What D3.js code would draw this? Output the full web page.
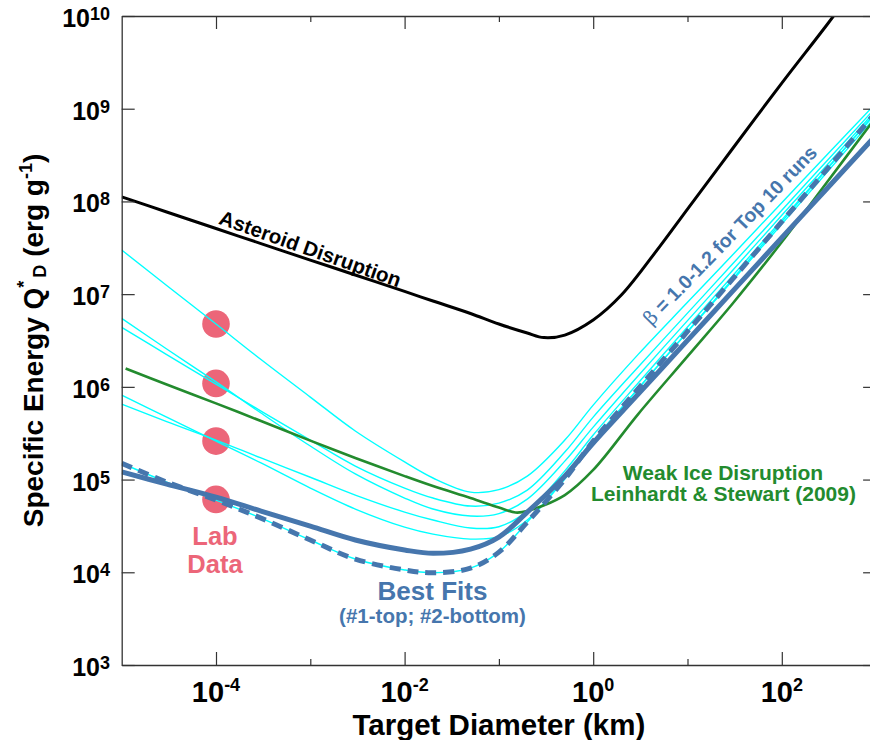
<!DOCTYPE html>
<html><head><meta charset="utf-8">
<script src="https://cdn.jsdelivr.net/npm/d3@7"></script>
<style>
html,body{margin:0;padding:0;background:#fff;}
svg{display:block;font-family:"Liberation Sans",Arial,Helvetica,sans-serif;font-weight:bold;}
</style></head><body>
<svg id="chart" width="870" height="740"></svg>
<script>
// ---------------- data ----------------
const asteroidD = [1e-5, 3e-5, 1e-4, 3e-4, 1e-3, 3e-3, 0.01, 0.02, 0.05, 0.1, 0.2, 0.3, 0.5, 1, 2, 5, 10, 30, 100, 300, 1000];
const asteroidQ = [1.12e8, 7.69e7, 5.10e7, 3.51e7, 2.33e7, 1.61e7, 1.07e7, 8.43e6, 6.18e6, 4.76e6, 3.81e6, 3.40e6, 3.62e6, 5.26e6, 9.83e6, 3.20e7, 8.28e7, 3.70e8, 1.89e9, 8.00e9, 4.09e10];

const runD = [1e-5, 3e-5, 1e-4, 3e-4, 1e-3, 3e-3, 0.01, 0.02, 0.05, 0.1, 0.2, 0.5, 1, 3, 10, 30, 100, 300, 1000];
const run1Q = [2.99e7, 1.24e7, 4.76e6, 1.97e6, 7.76e5, 3.34e5, 1.55e5, 1.04e5, 7.33e4, 7.80e4, 1.09e5, 2.67e5, 6.36e5, 2.24e6, 8.16e6, 2.65e7, 9.68e7, 3.16e8, 1.15e9];
const run2Q = [4.38e6, 2.23e6, 1.07e6, 5.48e5, 2.67e5, 1.40e5, 8.10e4, 6.32e4, 5.18e4, 5.58e4, 7.70e4, 1.98e5, 4.72e5, 1.64e6, 6.24e6, 2.11e7, 8.04e7, 2.73e8, 1.04e9];
const run3Q = [5.48e6, 2.56e6, 1.13e6, 5.22e5, 2.30e5, 1.15e5, 6.32e4, 4.81e4, 4.04e4, 4.30e4, 6.16e4, 1.58e5, 3.68e5, 1.32e6, 5.18e6, 1.80e7, 7.08e7, 2.46e8, 9.68e8];
const run4Q = [6.52e5, 4.22e5, 2.67e5, 1.71e5, 1.06e5, 6.81e4, 4.46e4, 3.66e4, 3.00e4, 3.10e4, 4.57e4, 1.24e5, 3.02e5, 1.10e6, 4.42e6, 1.57e7, 6.32e7, 2.25e8, 8.99e8];
const run5Q = [8.16e5, 4.72e5, 2.60e5, 1.51e5, 8.10e4, 4.81e4, 3.07e4, 2.58e4, 2.28e4, 2.42e4, 3.66e4, 1.04e5, 2.60e5, 9.59e5, 3.90e6, 1.40e7, 5.69e7, 2.05e8, 8.34e8];
const bestFit1Q = [1.21e5, 8.94e4, 6.47e4, 4.57e4, 3.15e4, 2.23e4, 1.74e4, 1.60e4, 1.78e4, 2.40e4, 4.46e4, 1.09e5, 2.48e5, 8.36e5, 3.17e6, 1.07e7, 4.07e7, 1.37e8, 5.20e8];
const bestFit2Q = [1.50e5, 9.40e4, 6.01e4, 3.84e4, 2.23e4, 1.39e4, 1.06e4, 9.88e3, 1.11e4, 1.65e4, 3.48e4, 1.01e5, 2.60e5, 9.54e5, 3.96e6, 1.45e7, 6.04e7, 2.21e8, 9.21e8];

const weakIceD = [1.1e-5, 3e-5, 1e-4, 3e-4, 1e-3, 3e-3, 0.01, 0.02, 0.05, 0.1, 0.15, 0.2, 0.5, 1, 3, 10, 30, 100, 300, 1000];
const weakIceQ = [1.58e6, 1.06e6, 6.64e5, 4.28e5, 2.63e5, 1.71e5, 1.09e5, 8.51e4, 6.32e4, 4.99e4, 4.41e4, 4.57e4, 6.81e4, 1.27e5, 5.09e5, 2.13e6, 7.88e6, 3.65e7, 1.60e8, 8.14e8];

const labD = [1e-4, 1e-4, 1e-4, 1e-4];
const labQ = [4.76e6, 1.09e6, 2.60e5, 6.11e4];

const xMajorTicks = [1e-4, 1e-2, 1, 1e2];
const xMajorExp = ["-4", "-2", "0", "2"];
const xMinorTicks = [1e-3, 1e-1, 10];
const yTicks = [1e3, 1e4, 1e5, 1e6, 1e7, 1e8, 1e9, 1e10];
const yExp = ["3", "4", "5", "6", "7", "8", "9", "10"];

// ---------------- chart ----------------
const svg = d3.select("#chart");
svg.append("rect").attr("width", 870).attr("height", 740).attr("fill", "#fff");

const L = 121.7, R = 876.1, T = 16, B = 665;
const x = d3.scaleLog().domain([1e-5, 1e3]).range([L, R]);
const y = d3.scaleLog().domain([1e3, 1e10]).range([B, T]);

const BLUE = "#4676ad", GREEN = "#238b2e", RED = "#ec6679", CYAN = "#00ffff";

svg.append("defs").append("clipPath").attr("id", "plotclip")
  .append("rect").attr("x", L).attr("y", T).attr("width", R - L).attr("height", B - T);

const plot = svg.append("g").attr("clip-path", "url(#plotclip)");
const line = d3.line().x(d => x(d[0])).y(d => y(d[1])).curve(d3.curveCatmullRom.alpha(0.5));
const zip = (a, b) => a.map((v, i) => [v, b[i]]);

// lab data circles (behind the lines)
plot.selectAll("circle.lab").data(zip(labD, labQ)).enter().append("circle")
  .attr("class", "lab").attr("cx", d => x(d[0])).attr("cy", d => y(d[1]))
  .attr("r", 13.8).attr("fill", RED);

// cyan runs
[run1Q, run2Q, run3Q, run4Q, run5Q, bestFit2Q].forEach(q => {
  plot.append("path").attr("d", line(zip(runD, q)))
    .attr("fill", "none").attr("stroke", CYAN).attr("stroke-width", 1.4);
});

// weak ice (Leinhardt & Stewart 2009)
plot.append("path").attr("d", line(zip(weakIceD, weakIceQ)))
  .attr("fill", "none").attr("stroke", GREEN).attr("stroke-width", 2.6);

// best fits
plot.append("path").attr("d", line(zip(runD, bestFit1Q)))
  .attr("fill", "none").attr("stroke", BLUE).attr("stroke-width", 5);
plot.append("path").attr("d", line(zip(runD, bestFit2Q)))
  .attr("fill", "none").attr("stroke", BLUE).attr("stroke-width", 5)
  .attr("stroke-dasharray", "11 7");

// asteroid disruption
plot.append("path").attr("d", line(zip(asteroidD, asteroidQ)))
  .attr("fill", "none").attr("stroke", "#000").attr("stroke-width", 3);

// ---------------- axes ----------------
const AX = "#333";
function styleAxis(g) {
  g.select(".domain").attr("stroke", AX).attr("stroke-width", 1.3);
  g.selectAll(".tick line").attr("stroke", AX).attr("stroke-width", 1.2);
  g.selectAll(".tick text").remove();
}
const gBot = svg.append("g").attr("transform", `translate(0,${B})`)
  .call(d3.axisBottom(x).tickValues(xMajorTicks).tickSizeInner(-13).tickSizeOuter(0).tickFormat(""));
styleAxis(gBot);
const gBotMin = svg.append("g").attr("transform", `translate(0,${B})`)
  .call(d3.axisBottom(x).tickValues(xMinorTicks).tickSizeInner(-6).tickSizeOuter(0).tickFormat(""));
styleAxis(gBotMin); gBotMin.select(".domain").remove();
const gTop = svg.append("g").attr("transform", `translate(0,${T})`)
  .call(d3.axisTop(x).tickValues(xMajorTicks).tickSizeInner(-13).tickSizeOuter(0).tickFormat(""));
styleAxis(gTop);
const gTopMin = svg.append("g").attr("transform", `translate(0,${T})`)
  .call(d3.axisTop(x).tickValues(xMinorTicks).tickSizeInner(-6).tickSizeOuter(0).tickFormat(""));
styleAxis(gTopMin); gTopMin.select(".domain").remove();
const gLeft = svg.append("g").attr("transform", `translate(${L},0)`)
  .call(d3.axisLeft(y).tickValues(yTicks).tickSizeInner(-13).tickSizeOuter(0).tickFormat(""));
styleAxis(gLeft);
const gRight = svg.append("g").attr("transform", `translate(${R},0)`)
  .call(d3.axisRight(y).tickValues(yTicks).tickSizeInner(-13).tickSizeOuter(0).tickFormat(""));
styleAxis(gRight);

// x tick labels with superscripts
xMajorTicks.forEach((v, i) => {
  const t = svg.append("text").attr("x", x(v)).attr("y", 702)
    .attr("text-anchor", "middle").attr("fill", "#000");
  t.append("tspan").attr("font-size", 29).text("10");
  t.append("tspan").attr("font-size", 18).attr("dy", -11).text(xMajorExp[i]);
});
// y tick labels with superscripts
yTicks.forEach((v, i) => {
  const t = svg.append("text").attr("x", 110).attr("y", y(v) + 11)
    .attr("text-anchor", "end").attr("fill", "#000");
  t.append("tspan").attr("font-size", 25).text("10");
  t.append("tspan").attr("font-size", 18).attr("dy", -7).text(yExp[i]);
});

// axis titles
svg.append("text").attr("x", (L + R) / 2).attr("y", 735).attr("text-anchor", "middle")
  .attr("font-size", 29.5).attr("fill", "#000").text("Target Diameter (km)");

const yt = svg.append("text").attr("transform", `translate(43,${(T + B) / 2}) rotate(-90)`)
  .attr("text-anchor", "middle").attr("font-size", 28).attr("fill", "#000");
yt.append("tspan").text("Specific Energy Q");
yt.append("tspan").attr("font-size", 18).attr("dy", -13).text("*");
yt.append("tspan").attr("font-size", 18).attr("dy", 16).attr("dx", 3).text("D");
yt.append("tspan").attr("dy", -3).text(" (erg g");
yt.append("tspan").attr("font-size", 18).attr("dy", -11).text("-1");
yt.append("tspan").attr("dy", 11).text(")");

// ---------------- annotations ----------------
svg.append("text").attr("transform", "translate(308,255.5) rotate(19.5)")
  .attr("text-anchor", "middle").attr("font-size", 20.5).attr("fill", "#000")
  .text("Asteroid Disruption");

const beta = svg.append("text").attr("transform", "translate(735,240) rotate(-46)")
  .attr("text-anchor", "middle").attr("font-size", 19.5).attr("fill", BLUE);
beta.append("tspan").attr("font-weight", "normal").attr("font-family", "'DejaVu Serif', serif").text("β");
beta.append("tspan").text(" = 1.0-1.2 for Top 10 runs");

svg.append("text").attr("x", 215).attr("y", 545).attr("text-anchor", "middle")
  .attr("font-size", 25.5).attr("fill", RED).text("Lab");
svg.append("text").attr("x", 215).attr("y", 573).attr("text-anchor", "middle")
  .attr("font-size", 25.5).attr("fill", RED).text("Data");

svg.append("text").attr("x", 432.5).attr("y", 600).attr("text-anchor", "middle")
  .attr("font-size", 26).attr("fill", BLUE).text("Best Fits");
svg.append("text").attr("x", 432.5).attr("y", 623).attr("text-anchor", "middle")
  .attr("font-size", 20.5).attr("fill", BLUE).text("(#1-top; #2-bottom)");

svg.append("text").attr("x", 723).attr("y", 480).attr("text-anchor", "middle")
  .attr("font-size", 21).attr("fill", GREEN).text("Weak Ice Disruption");
svg.append("text").attr("x", 723.5).attr("y", 501).attr("text-anchor", "middle")
  .attr("font-size", 21).attr("fill", GREEN).text("Leinhardt & Stewart (2009)");
</script>
</body></html>
